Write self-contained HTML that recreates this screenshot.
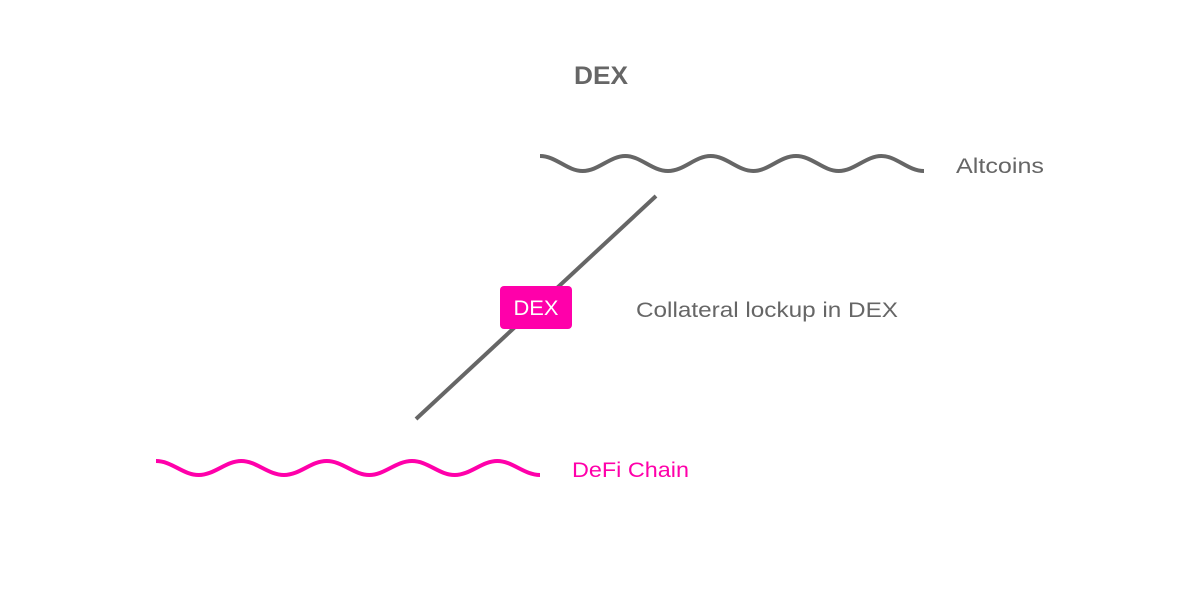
<!DOCTYPE html>
<html><head><meta charset="utf-8"><style>
html,body{margin:0;padding:0;background:#fff;}
svg{display:block;}
</style></head><body>
<svg width="1200" height="608" viewBox="0 0 1200 608" xmlns="http://www.w3.org/2000/svg">
<rect width="1200" height="608" fill="#fff"/>
<text x="574" y="84" font-family="Liberation Sans, sans-serif" font-weight="bold" font-size="25" fill="#666" textLength="54" lengthAdjust="spacingAndGlyphs">DEX</text>
<path d="M540 156 C556 156 567 171 582.7 171 S610 156 625.3 156 S652 171 668 171 S695 156 710.7 156 S738 171 753.3 171 S780 156 796 156 S823 171 838.7 171 S866 156 881.3 156 S908 171 924 171" fill="none" stroke="#666" stroke-width="4"/>
<text x="956" y="173" font-family="Liberation Sans, sans-serif" font-size="21" fill="#666" textLength="88" lengthAdjust="spacingAndGlyphs">Altcoins</text>
<line x1="656" y1="196" x2="416" y2="419" stroke="#666" stroke-width="4"/>
<rect x="500" y="286" width="72" height="43" rx="4" fill="#ff00aa"/>
<text x="536" y="315" text-anchor="middle" font-family="Liberation Sans, sans-serif" font-size="21" fill="#fff" textLength="45" lengthAdjust="spacingAndGlyphs">DEX</text>
<text x="636" y="317" font-family="Liberation Sans, sans-serif" font-size="21" fill="#666" textLength="262" lengthAdjust="spacingAndGlyphs">Collateral lockup in DEX</text>
<path d="M156 461 C172 461 183 475 198.7 475 S226 461 241.3 461 S268 475 284 475 S311 461 326.7 461 S354 475 369.3 475 S396 461 412 461 S439 475 454.7 475 S482 461 497.3 461 S524 475 540 475" fill="none" stroke="#ff00aa" stroke-width="4"/>
<text x="572" y="477" font-family="Liberation Sans, sans-serif" font-size="21" fill="#ff00aa" textLength="117" lengthAdjust="spacingAndGlyphs">DeFi Chain</text>
</svg>
</body></html>
